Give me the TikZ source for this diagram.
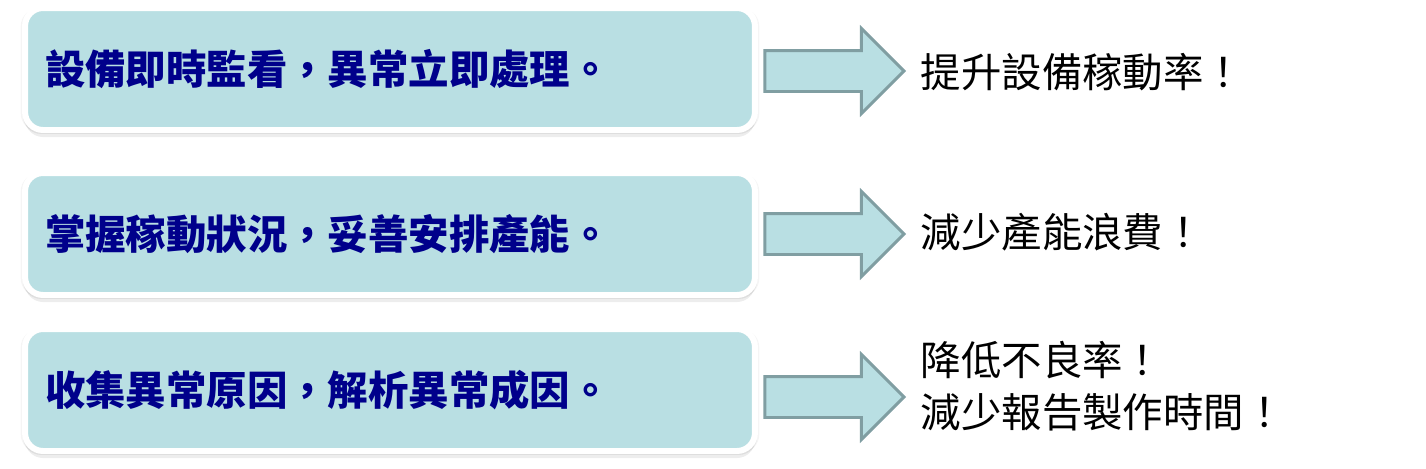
\documentclass[tikz,border=0pt]{standalone}
\usepackage{fontspec}
\newfontfamily\cjk{Noto Sans CJK TC}
\usepackage{tikz}
\usetikzlibrary{shapes.arrows, positioning, shadows}
\definecolor{boxfill}{RGB}{185,223,227}
\definecolor{arrowedge}{RGB}{128,158,162}
\definecolor{textnavy}{RGB}{0,0,139}
\tikzset{
  causebox/.style={rectangle, draw=white, fill=boxfill,
    minimum width=14.6cm, minimum height=2.44cm, text width=13.8cm,
    inner xsep=0.4cm, align=left, rounded corners=0.36cm, line width=3.4pt,
    font=\cjk\bfseries\fontsize{23pt}{28pt}\selectfont, text=textnavy,
    drop shadow={shadow xshift=0pt, shadow yshift=-0.5pt, shadow scale=1.012, opacity=0.08},
    drop shadow={shadow xshift=0pt, shadow yshift=-2pt, shadow scale=1.006, opacity=0.14},
    drop shadow={shadow xshift=0pt, shadow yshift=-4pt, opacity=0.14}},
  fatarrow/.style={single arrow, draw=arrowedge, fill=boxfill,
    line width=1.7pt, minimum height=2.78cm,
    inner xsep=0pt, inner ysep=0.38cm,
    single arrow head extend=0.44cm},
  goaltext/.style={inner sep=0pt, align=left, text=black,
    font=\cjk\fontsize{23pt}{30pt}\selectfont}
}

\begin{document}
\begin{tikzpicture}[x=0.02cm, y=-0.02cm]
  \useasboundingbox (0,0) rectangle (1426,468);

  % Causes
  \node[causebox] (monitor) at (390,69) {設備即時監看，異常立即處理。};
  \node[causebox] (capacity) at (390,234) {掌握稼動狀況，妥善安排產能。};
  \node[causebox] (analysis) at (390,390) {收集異常原因，解析異常成因。};

  % Arrows
  \node[fatarrow, right=0.11cm of monitor, yshift=-0.04cm] (arr1) {};
  \node[fatarrow, right=0.11cm of capacity] (arr2) {};
  \node[fatarrow, right=0.11cm of analysis, yshift=-0.14cm] (arr3) {};

  % Results
  \node[goaltext, right=0.29cm of arr1, yshift=-0.02cm] (gain1) {提升設備稼動率！};
  \node[goaltext, right=0.29cm of arr2, yshift=0.04cm] (gain2) {減少產能浪費！};
  \node[goaltext, right=0.29cm of arr3, yshift=0.22cm] (gain3) {降低不良率！\\減少報告製作時間！};
\end{tikzpicture}
\end{document}
